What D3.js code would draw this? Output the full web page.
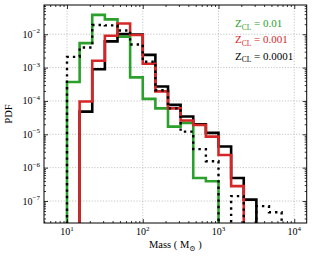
<!DOCTYPE html>
<html><head><meta charset="utf-8">
<script src="https://cdn.jsdelivr.net/npm/d3@7"></script>
<style>
body{margin:0;background:#fff;}
svg{display:block;}
text{font-family:"Liberation Serif","DejaVu Serif",serif;}
</style></head>
<body><svg id="c" width="313" height="256"></svg>
<script>
// bin edges (log-spaced, 6 per decade)
const binEdges = [10, 14.68, 21.54, 31.62, 46.42, 68.13, 100, 146.8, 215.4, 316.2, 464.2, 681.3, 1000, 1468, 2154, 3162, 4642, 6813, 10000];
// PDF values per bin
const green  = [3.7e-4, 5.4e-3, 0.038, 0.028, 8.5e-3, 5.1e-4, 1.15e-4, 6e-5, 1.7e-5, 2.2e-5, 4.9e-7, 3.9e-7];
const red    = [0, 9.6e-5, 1.6e-3, 9e-3, 0.021, 9.5e-3, 1.3e-3, 1.94e-4, 6e-5, 2.6e-5, 1.9e-5, 8.5e-6, 2.4e-6, 2.8e-7];
const black  = [0, 4.8e-5, 8.9e-4, 6.1e-3, 0.0102, 0.0098, 2.4e-3, 2.7e-4, 7.6e-5, 3.4e-5, 2e-5, 1.1e-5, 4.3e-6, 4.9e-7, 1.1e-7];
const dotted = [2.1e-3, 4e-3, 0.019, 0.0185, 0.013, 4.95e-3, 1.5e-3, 2.1e-4, 6e-5, 1.2e-5, 3.6e-6, 1.55e-6, 0, 1.4e-7, 0, 7e-8, 4.6e-8];
const xTickValues = [10, 100, 1000, 10000];
const xTickExp = ["1", "2", "3", "4"];
const yTickValues = [1e-7, 1e-6, 1e-5, 1e-4, 1e-3, 1e-2];
const yTickExp = ["−7", "−6", "−5", "−4", "−3", "−2"];
const legendLabels = ["0.01", "0.001", "0.0001"];
const legendColors = ["#2ca02c", "#d62728", "#000000"];

const L = 44, T = 5, R = 306.7, B = 223;
const svg = d3.select("#c");
const x = d3.scaleLog().domain([4.97, 14600]).range([L, R]);
const y = d3.scaleLog().domain([2.19e-8, 0.0753]).range([B, T]);

// minor tick values
const xMinor = [], yMinor = [];
for (let d = 0; d <= 4; d++) for (let m = 2; m <= 9; m++) { const v = m * Math.pow(10, d); if (v > 4.97 && v < 14600) xMinor.push(v); }
for (let d = -9; d <= -1; d++) for (let m = 2; m <= 9; m++) { const v = m * Math.pow(10, d); if (v > 2.19e-8 && v < 0.0753) yMinor.push(v); }

svg.append("defs").append("clipPath").attr("id", "clip").append("rect")
  .attr("x", L).attr("y", T).attr("width", R - L).attr("height", B - T);

// grid
const grid = svg.append("g").attr("stroke", "#b8b8b8").attr("stroke-width", 0.8).attr("stroke-dasharray", "1.2,1.6");
grid.selectAll("line.gx").data(xTickValues).join("line").attr("x1", d => x(d)).attr("x2", d => x(d)).attr("y1", T).attr("y2", B);
grid.selectAll("line.gy").data(yTickValues).join("line").attr("y1", d => y(d)).attr("y2", d => y(d)).attr("x1", L).attr("x2", R);

// histograms
function stepPoints(vals) {
  const pts = [];
  const bottom = B + 20;
  const yy = v => v > 0 ? y(v) : bottom;
  pts.push([x(binEdges[0]), bottom]);
  vals.forEach((v, i) => {
    pts.push([x(binEdges[i]), yy(v)]);
    pts.push([x(binEdges[i + 1]), yy(v)]);
  });
  pts.push([x(binEdges[vals.length]), bottom]);
  return pts;
}
const line = d3.line();
const plot = svg.append("g").attr("clip-path", "url(#clip)").attr("fill", "none");
[[green, "#2ca02c"], [black, "#000"], [red, "#d62728"]].forEach(([vals, col]) => {
  plot.append("path").attr("d", line(stepPoints(vals))).attr("stroke", col).attr("stroke-width", 2.6).attr("stroke-linejoin", "miter");
});
plot.append("path").attr("d", line(stepPoints(dotted))).attr("stroke", "#000").attr("stroke-width", 2.4).attr("stroke-dasharray", "2.4,4");

// axes (ticks inward)
function styleAxis(g) { g.select(".domain").remove(); g.selectAll("line").attr("stroke", "#000").attr("stroke-width", 0.8); g.selectAll("text").remove(); }
svg.append("g").attr("transform", `translate(0,${B})`).call(d3.axisBottom(x).tickValues(xTickValues).tickSize(-4)).call(styleAxis);
svg.append("g").attr("transform", `translate(0,${B})`).call(d3.axisBottom(x).tickValues(xMinor).tickSize(-2)).call(styleAxis);
svg.append("g").attr("transform", `translate(0,${T})`).call(d3.axisTop(x).tickValues(xTickValues).tickSize(-4)).call(styleAxis);
svg.append("g").attr("transform", `translate(0,${T})`).call(d3.axisTop(x).tickValues(xMinor).tickSize(-2)).call(styleAxis);
svg.append("g").attr("transform", `translate(${L},0)`).call(d3.axisLeft(y).tickValues(yTickValues).tickSize(-4)).call(styleAxis);
svg.append("g").attr("transform", `translate(${L},0)`).call(d3.axisLeft(y).tickValues(yMinor).tickSize(-2)).call(styleAxis);
svg.append("g").attr("transform", `translate(${R},0)`).call(d3.axisRight(y).tickValues(yTickValues).tickSize(-4)).call(styleAxis);
svg.append("g").attr("transform", `translate(${R},0)`).call(d3.axisRight(y).tickValues(yMinor).tickSize(-2)).call(styleAxis);

// frame
svg.append("rect").attr("x", L).attr("y", T).attr("width", R - L).attr("height", B - T).attr("fill", "none").attr("stroke", "#000").attr("stroke-width", 1);

// tick labels
xTickValues.forEach((v, i) => {
  const t = svg.append("text").attr("x", x(v)).attr("y", 235).attr("text-anchor", "middle").attr("font-size", 10);
  t.append("tspan").text("10");
  t.append("tspan").attr("dy", -4.5).attr("font-size", 7).text(xTickExp[i]);
});
yTickValues.forEach((v, i) => {
  const t = svg.append("text").attr("x", 40).attr("y", y(v) + 3.5).attr("text-anchor", "end").attr("font-size", 10);
  t.append("tspan").text("10");
  t.append("tspan").attr("dy", -4.5).attr("font-size", 7).text(yTickExp[i]);
});

// axis labels
const xl = svg.append("text").attr("x", (L + R) / 2).attr("y", 248).attr("text-anchor", "middle").attr("font-size", 10.5);
xl.append("tspan").text("Mass ( M");
xl.append("tspan").attr("dy", 2.5).attr("font-size", 7.5).text("⊙");
xl.append("tspan").attr("dy", -2.5).text(" )");
svg.append("text").attr("transform", `translate(12,${(T + B) / 2}) rotate(-90)`).attr("text-anchor", "middle").attr("font-size", 10.5).text("PDF");

// legend
legendLabels.forEach((lab, i) => {
  const t = svg.append("text").attr("x", 235).attr("y", 27 + i * 16.3).attr("font-size", 11).attr("fill", legendColors[i]);
  t.append("tspan").text("Z");
  t.append("tspan").attr("dy", 2.5).attr("font-size", 7.5).text("CL");
  t.append("tspan").attr("dy", -2.5).text(" = " + lab);
});
</script></body></html>
